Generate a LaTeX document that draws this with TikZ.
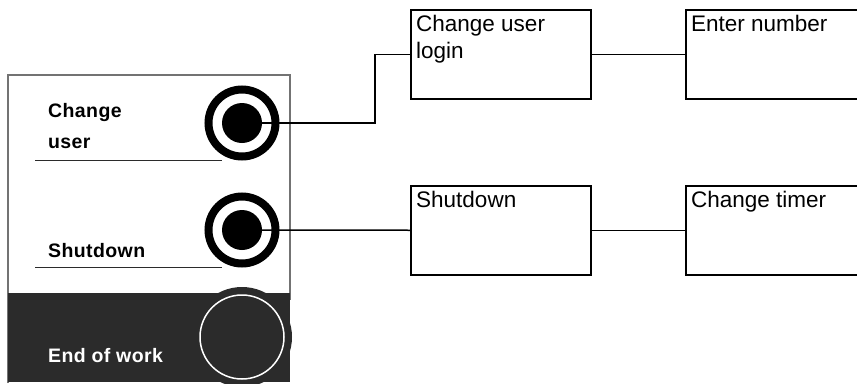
\documentclass[tikz,border=0pt]{standalone}
\usepackage{fontspec}
\setmainfont{Liberation Sans}
\newfontfamily\panelfont[LetterSpace=2]{Liberation Sans}
\definecolor{panelgray}{gray}{0.45}
\definecolor{darkpanel}{HTML}{2B2B2B}

\begin{document}
\begin{tikzpicture}[x=1pt,y=-1pt,
  ring/.style={circle,draw,line width=8pt,minimum size=67pt,inner sep=0pt},
  dot/.style={circle,fill,minimum size=40pt,inner sep=0pt},
  btnlabel/.style={anchor=base west,inner sep=0pt,align=left,
    font=\panelfont\bfseries\fontsize{19.5}{31}\selectfont},
  stepbox/.style={draw,line width=1.5pt,minimum width=180pt,minimum height=89pt,
    anchor=north west,inner sep=0pt},
  boxtext/.style={anchor=north west,align=left,inner xsep=6pt,inner ysep=6pt,
    font=\fontsize{22.5}{27}\selectfont}]
  \clip (0,0) rectangle (857,383);

  % panel
  \draw[panelgray,line width=1.5pt] (8,383) |- (290,75) -- (290,300);
  \fill[darkpanel] (8,293) rectangle (290,382);
  \fill[darkpanel] (242,337) circle (50);
  \draw[white,line width=1.5pt] (242,337) circle (42);
  \draw[darkpanel,line width=1pt] (35,160) -- (222,160);
  \draw[darkpanel,line width=1pt] (35,267) -- (222,267);

  % buttons
  \node[ring] (U) at (242,123) {};
  \node[dot] (Ud) at (U) {};
  \node[ring] (S) at (242,230) {};
  \node[dot] (Sd) at (S) {};

  \node[btnlabel] (Ul) at (48,148) {Change\\user};
  \node[btnlabel] (Sl) at (48,257) {Shutdown};
  \node[btnlabel,white] (El) at (48,362) {End of work};

  % menu boxes
  \node[stepbox] (L) at (410,9) {};
  \node[stepbox] (N) at (685,9) {};
  \node[stepbox] (D) at (410,185) {};
  \node[stepbox] (T) at (685,185) {};
  \node[boxtext] (Lt) at (L.north west) {Change user\\login};
  \node[boxtext] (Nt) at (N.north west) {Enter number};
  \node[boxtext] (Dt) at (D.north west) {Shutdown};
  \node[boxtext] (Tt) at (T.north west) {Change timer};

  \coordinate (K) at ([xshift=-35pt]L.west);
  \draw[line width=1.5pt] (U.center) -| (K) -- (L.west);
  \draw[line width=1.5pt] (L) -- (N);
  \draw[line width=1.5pt] (S.center) -- (D.west);
  \draw[line width=1.5pt] (D) -- (T);
\end{tikzpicture}
\end{document}
